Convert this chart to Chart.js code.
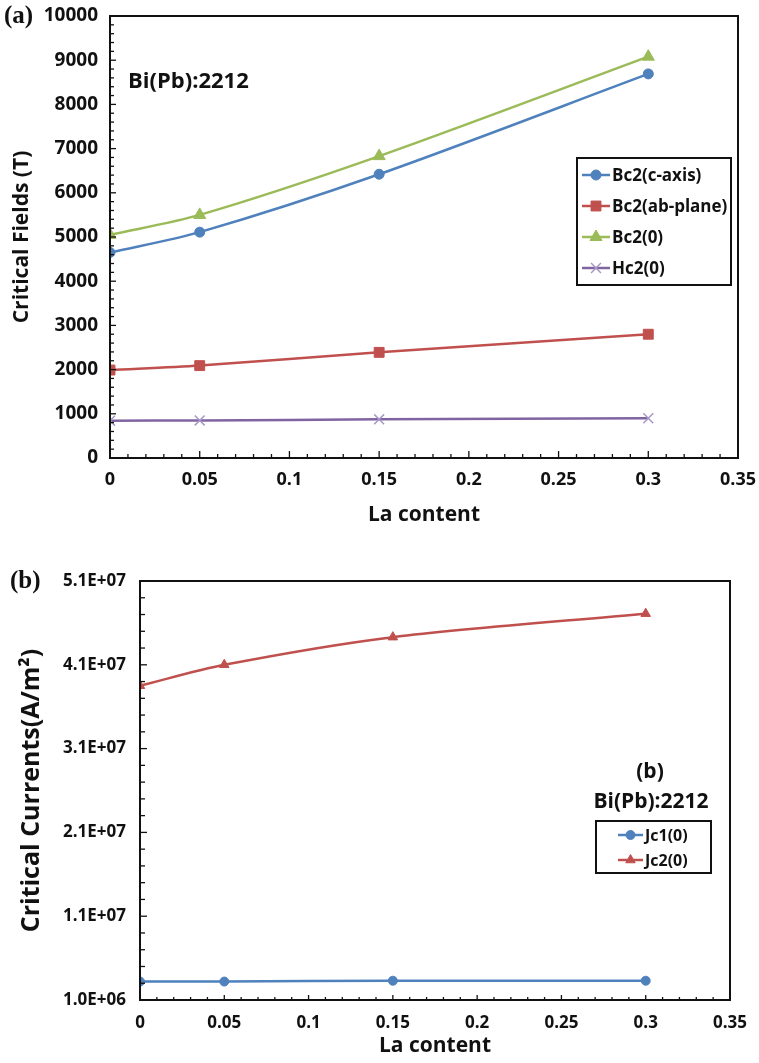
<!DOCTYPE html>
<html>
<head>
<meta charset="utf-8">
<script src="https://cdn.jsdelivr.net/npm/chart.js@4/dist/chart.umd.min.js"></script>
<style>
  body { margin: 0; background: #fff; }
  #wrap { position: relative; width: 759px; height: 1063px; }
  canvas { position: absolute; left: 0; }
</style>
</head>
<body>
<div id="wrap">
  <canvas id="fieldsChart" width="759" height="530" style="top:0"></canvas>
  <canvas id="currentsChart" width="759" height="533" style="top:530px"></canvas>
</div>
<script>
// La content (x values shared by both panels)
const laContent = [0, 0.05, 0.15, 0.3];

// (a) critical fields, T
const bc2CAxis = [4650, 5110, 6420, 8690];
const bc2AbPlane = [1990, 2090, 2390, 2800];
const bc2Zero = [5050, 5500, 6830, 9080];
const hc2Zero = [845, 850, 875, 900];

// (b) critical currents, A/m2
const jc1Zero = [3.2e6, 3.2e6, 3.3e6, 3.3e6];
const jc2Zero = [3.85e7, 4.10e7, 4.43e7, 4.71e7];

// tick labels
const xTicks = [0, 0.05, 0.1, 0.15, 0.2, 0.25, 0.3, 0.35];
const fieldTicks = [0, 1000, 2000, 3000, 4000, 5000, 6000, 7000, 8000, 9000, 10000];
const currentTicks = [1.0e6, 1.1e7, 2.1e7, 3.1e7, 4.1e7, 5.1e7];

const FONT = '"Open Sans", Lato, sans-serif';
const pts = ys => laContent.map((x, i) => ({ x: x, y: ys[i] }));

function sci(v) {
    const parts = v.toExponential(1).split('e');
    const e = parseInt(parts[1], 10);
    return parts[0] + 'E' + (e < 0 ? '-' : '+') + String(Math.abs(e)).padStart(2, '0');
}

// plot frame + inward tick marks (major and minor)
const frameTicks = {
    id: 'frameTicks',
    afterDraw(chart, args, opts) {
        const { ctx, chartArea: a, scales } = chart;
        ctx.save();
        ctx.strokeStyle = '#111';
        ctx.lineWidth = 1.3;
        const drawAxis = (scale, horizontal, majorLen, minorLen) => {
            const vals = scale.ticks.map(t => t.value);
            vals.forEach((v, i) => {
                const p = scale.getPixelForValue(v);
                ctx.beginPath();
                if (horizontal) { ctx.moveTo(p, a.bottom); ctx.lineTo(p, a.bottom - majorLen); }
                else { ctx.moveTo(a.left, p); ctx.lineTo(a.left + majorLen, p); }
                ctx.stroke();
                if (i < vals.length - 1) {
                    for (let k = 1; k < opts.minorCount; k++) {
                        const q = scale.getPixelForValue(v + (vals[i + 1] - v) * k / opts.minorCount);
                        ctx.beginPath();
                        if (horizontal) { ctx.moveTo(q, a.bottom); ctx.lineTo(q, a.bottom - minorLen); }
                        else { ctx.moveTo(a.left, q); ctx.lineTo(a.left + minorLen, q); }
                        ctx.stroke();
                    }
                }
            });
        };
        drawAxis(scales.x, true, opts.xMajor, opts.xMinor);
        drawAxis(scales.y, false, opts.yMajor, opts.yMinor);
        ctx.lineWidth = 2;
        ctx.strokeStyle = '#111';
        ctx.strokeRect(a.left, a.top, a.right - a.left, a.bottom - a.top);
        ctx.restore();
    }
};

// panel letter, text notes and boxed legend
const notes = {
    id: 'notes',
    afterDraw(chart, args, opts) {
        const ctx = chart.ctx;
        ctx.save();
        ctx.fillStyle = '#111';
        ctx.textBaseline = 'middle';
        (opts.texts || []).forEach(t => {
            ctx.font = t.font;
            ctx.textAlign = t.align || 'left';
            ctx.fillText(t.text, t.x, t.y);
        });
        const lg = opts.legend;
        ctx.lineWidth = 2;
        ctx.strokeStyle = '#111';
        ctx.strokeRect(lg.x, lg.y, lg.w, lg.h);
        ctx.font = lg.font;
        ctx.textAlign = 'left';
        chart.data.datasets.forEach((ds, i) => {
            const y = lg.y + lg.first + i * lg.step;
            ctx.strokeStyle = ds.borderColor;
            ctx.lineWidth = ds.borderWidth;
            ctx.beginPath();
            ctx.moveTo(lg.x + lg.lineX0, y);
            ctx.lineTo(lg.x + lg.lineX1, y);
            ctx.stroke();
            ctx.fillStyle = ds.pointBackgroundColor;
            ctx.strokeStyle = ds.pointBorderColor;
            ctx.lineWidth = ds.pointBorderWidth;
            Chart.helpers.drawPoint(ctx, { pointStyle: ds.pointStyle, radius: ds.pointRadius, rotation: 0, borderWidth: ds.pointBorderWidth },
                lg.x + (lg.lineX0 + lg.lineX1) / 2, y);
            ctx.fillStyle = '#111';
            ctx.fillText(ds.label, lg.x + lg.textX, y + 1);
        });
        ctx.restore();
    }
};

function series(label, data, color, style, radius, markColor, markWidth) {
    return {
        label: label,
        data: pts(data),
        borderColor: color,
        borderWidth: 2.5,
        pointStyle: style,
        pointRadius: radius,
        pointBackgroundColor: markColor || color,
        pointBorderColor: markColor || color,
        pointBorderWidth: markWidth || 1,
        tension: 0.3,
        fill: false
    };
}

function xAxis(fontSize, pad, height, titleSize, titlePad) {
    return {
        type: 'linear', min: 0, max: 0.35,
        afterBuildTicks: s => { s.ticks = xTicks.map(v => ({ value: v })); },
        afterFit: s => { s.height = height; s.paddingLeft = 0; s.paddingRight = 0; },
        grid: { display: false, drawTicks: false },
        border: { display: false },
        ticks: { color: '#111', padding: pad, autoSkip: false, maxRotation: 0,
                 font: { family: FONT, size: fontSize, weight: 'bold' },
                 callback: v => String(v) },
        title: { display: true, text: 'La content', color: '#111', padding: { top: 0, bottom: titlePad },
                 font: { family: FONT, size: titleSize, weight: 'bold' } }
    };
}

// (a) Critical fields
new Chart(document.getElementById('fieldsChart').getContext('2d'), {
    type: 'line',
    data: {
        datasets: [
            series('Bc2(c-axis)', bc2CAxis, '#4F81BD', 'circle', 5),
            series('Bc2(ab-plane)', bc2AbPlane, '#C0504D', 'rect', 7),
            series('Bc2(0)', bc2Zero, '#9BBB59', 'triangle', 7),
            series('Hc2(0)', hc2Zero, '#8064A2', 'crossRot', 7, '#A898C8', 1.5)
        ]
    },
    options: {
        responsive: false,
        animation: false,
        layout: { padding: { top: 16, right: 21, left: 0, bottom: 0 } },
        scales: {
            x: xAxis(18, 11, 72, 21, 2),
            y: {
                type: 'linear', min: 0, max: 10000,
                afterBuildTicks: s => { s.ticks = fieldTicks.map(v => ({ value: v })); },
                afterFit: s => { s.width = 110; s.paddingTop = 0; s.paddingBottom = 0; },
                grid: { display: false, drawTicks: false },
                border: { display: false },
                ticks: { color: '#111', padding: 12, font: { family: FONT, size: 19, weight: 'bold' },
                         callback: v => String(v) },
                title: { display: true, text: 'Critical Fields (T)', color: '#111', padding: { top: 9, bottom: 0 },
                         font: { family: FONT, size: 21, weight: 'bold' } }
            }
        },
        plugins: {
            legend: { display: false },
            tooltip: { enabled: false },
            frameTicks: { minorCount: 5, xMajor: 7, xMinor: 4, yMajor: 6, yMinor: 4 },
            notes: {
                texts: [
                    { text: '(a)', x: 4, y: 17, font: 'bold 25px "Liberation Serif", serif' },
                    { text: 'Bi(Pb):2212', x: 128, y: 82, font: 'bold 22px ' + FONT }
                ],
                legend: { x: 577, y: 158, w: 154, h: 127, first: 17, step: 31,
                          lineX0: 5, lineX1: 33, textX: 35, font: 'bold 17px ' + FONT }
            }
        }
    },
    plugins: [frameTicks, notes]
});

// (b) Critical currents
new Chart(document.getElementById('currentsChart').getContext('2d'), {
    type: 'line',
    data: {
        datasets: [
            series('Jc1(0)', jc1Zero, '#4F81BD', 'circle', 4.5),
            series('Jc2(0)', jc2Zero, '#C0504D', 'triangle', 5.5)
        ]
    },
    options: {
        responsive: false,
        animation: false,
        layout: { padding: { top: 51, right: 29, left: 0, bottom: 0 } },
        scales: {
            x: xAxis(17, 13, 63, 21, 4),
            y: {
                type: 'linear', min: 1.0e6, max: 5.1e7,
                afterBuildTicks: s => { s.ticks = currentTicks.map(v => ({ value: v })); },
                afterFit: s => { s.width = 140; s.paddingTop = 0; s.paddingBottom = 0; },
                grid: { display: false, drawTicks: false },
                border: { display: false },
                ticks: { color: '#111', padding: 14, font: { family: FONT, size: 17, weight: 'bold' },
                         callback: v => sci(v) },
                title: { display: true, text: 'Critical Currents(A/m²)', color: '#111', padding: { top: 17, bottom: 0 },
                         font: { family: FONT, size: 25, weight: 'bold' } }
            }
        },
        plugins: {
            legend: { display: false },
            tooltip: { enabled: false },
            frameTicks: { minorCount: 5, xMajor: 5, xMinor: 3, yMajor: 7, yMinor: 5 },
            notes: {
                texts: [
                    { text: '(b)', x: 10, y: 52, font: 'bold 25px "Liberation Serif", serif' },
                    { text: '(b)', x: 650, y: 242, align: 'center', font: 'bold 21px ' + FONT },
                    { text: 'Bi(Pb):2212', x: 651, y: 272, align: 'center', font: 'bold 21px ' + FONT }
                ],
                legend: { x: 596, y: 291, w: 115, h: 52, first: 14, step: 25,
                          lineX0: 22, lineX1: 47, textX: 49, font: 'bold 16px ' + FONT }
            }
        }
    },
    plugins: [frameTicks, notes]
});
</script>
</body>
</html>
